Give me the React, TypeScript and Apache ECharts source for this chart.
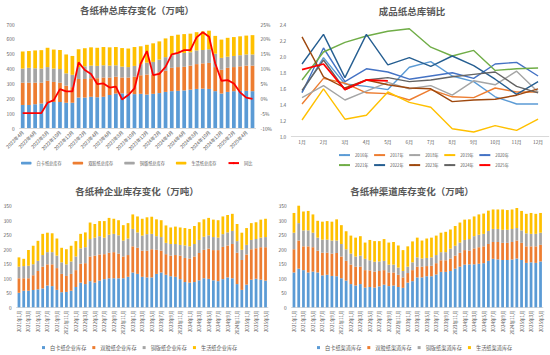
import React, { useEffect, useRef } from "react";
import * as echarts from "echarts";

const monthLabels = (y0: number, m0: number, n: number) => {
  const out: string[] = [];
  let y = y0, m = m0;
  for (let i = 0; i < n; i++) {
    out.push(`${y}年${m}月`);
    m++;
    if (m > 12) { m = 1; y++; }
  }
  return out;
};

// ---------- Chart 1: 各纸种总库存变化 ----------
const totalCats = monthLabels(2022, 4, 38);
const totalWhite = [155,155,160,165,175,175,175,170,170,205,205,210,207,210,222,232,233,230,228,230,225,230,235,243,248,250,253,258,263,265,263,248,232,243,248,250,250,248];
const totalDouble = [150,150,145,140,143,135,130,115,105,125,125,125,128,130,118,113,107,110,117,125,135,130,140,142,157,160,159,162,167,170,175,162,160,162,162,165,170,172];
const totalCopper = [95,100,97,95,92,90,92,83,83,80,85,85,83,82,80,77,73,70,73,75,80,85,85,92,85,90,93,90,92,90,92,90,80,75,75,75,75,75];
const totalTissue = [115,113,120,124,130,128,128,127,127,120,122,123,122,123,123,123,125,125,127,120,120,125,123,126,130,128,127,125,123,125,125,120,123,127,127,127,127,130];
const totalYoY = [-5,-5,-5,-5,-1.5,-0.6,3.1,2.3,2.3,12.1,9.5,8.2,4.8,5,3.6,3.9,-0.4,1.1,3.3,11.7,15.9,7.8,8.2,10.6,14.8,15.3,16.2,16.2,20.5,22.2,20.7,11.7,5.9,6.1,5,2,0.2,-0.2];

// ---------- Chart 2: 成品纸总库销比 ----------
const ratioMonths = ["1月","2月","3月","4月","5月","6月","7月","8月","9月","10月","11月","12月"];
const r2016 = [1.55,1.98,1.65,1.62,1.58,1.86,1.93,1.75,1.68,1.49,1.40,1.40];
const r2017 = [1.40,1.72,1.66,1.54,1.53,1.45,1.58,1.49,1.48,1.60,1.55,1.55];
const r2018 = [1.48,1.63,1.45,1.56,1.67,1.59,1.63,1.51,1.69,1.64,1.81,1.55];
const r2019 = [1.20,1.59,1.21,1.26,1.55,1.42,1.36,1.09,1.05,1.13,1.07,1.21];
const r2020 = [1.54,2.10,1.68,1.84,1.80,1.71,1.75,1.79,1.72,1.90,1.92,1.75];
const r2021 = [1.70,2.05,2.17,2.25,2.31,2.34,2.11,2.00,2.07,1.82,1.84,1.85];
const r2022 = [1.90,2.27,1.73,2.27,1.89,1.98,1.87,2.00,1.88,1.71,1.52,1.68];
const r2023 = [2.24,1.74,1.60,1.70,1.64,1.60,1.59,1.43,1.45,1.46,1.51,1.59];
const r2024 = [1.57,1.95,1.58,1.70,1.73,1.68,1.70,1.74,1.77,1.80,1.62,1.54];
const r2025 = [1.83,1.90,1.58,1.70,1.69];
const yearNames = ["2016年","2017年","2018年","2019年","2020年","2021年","2022年","2023年","2024年","2025年"];
const yearData = [r2016,r2017,r2018,r2019,r2020,r2021,r2022,r2023,r2024,r2025];
const yearColors = ["#5B9BD5","#ED7D31","#A5A5A5","#FFC000","#4472C4","#70AD47","#255E91","#9E480E","#636363","#FF0000"];

// ---------- Chart 3: 各纸种企业库存变化 ----------
const longCats = monthLabels(2021, 1, 53);
const entWhite = [50,57,57,60,62,65,75,73,60,52,53,57,70,85,80,90,85,92,97,100,100,100,100,105,120,115,105,103,103,115,120,112,107,105,97,87,85,87,93,100,98,93,90,97,103,100,80,60,78,95,98,95,92];
const entDouble = [50,43,43,50,63,75,73,75,75,63,55,58,58,65,72,85,93,90,86,88,90,85,75,75,90,90,90,92,97,83,75,71,71,75,81,83,83,88,94,98,104,104,107,111,110,118,108,103,104,105,105,112,115];
const entCopper = [40,42,43,38,35,40,42,42,43,40,40,43,47,53,55,60,62,63,57,62,63,63,55,57,60,53,52,57,53,47,47,39,40,38,37,43,42,43,45,45,46,45,43,44,45,45,40,35,33,32,32,33,35];
const entTissue = [32,25,54,64,69,73,67,65,59,50,52,54,53,50,51,57,47,52,57,58,52,52,53,53,50,55,58,58,59,58,58,60,57,60,60,60,60,62,61,60,60,60,60,61,60,59,59,59,58,58,58,62,63];

// ---------- Chart 4: 各纸种渠道库存变化 ----------
const chWhite = [120,133,128,120,123,120,110,112,108,107,100,92,80,75,80,68,70,68,72,78,73,75,70,67,85,90,103,103,107,107,113,122,122,125,133,140,147,148,148,150,152,160,167,165,163,163,165,168,163,153,155,153,158];
const chDouble = [80,97,82,90,84,75,78,76,77,80,75,68,67,65,60,60,57,55,53,50,47,45,42,36,33,38,37,37,35,36,39,40,40,43,45,48,50,47,55,57,58,58,58,60,59,59,60,62,59,57,55,57,57];
const chCopper = [57,60,55,55,50,45,45,45,45,43,43,40,38,35,38,39,35,34,33,32,27,27,25,22,22,27,32,28,28,29,28,28,28,34,34,35,35,40,42,43,43,45,45,45,45,45,45,43,43,45,43,43,42];
const chTissue = [68,60,65,67,63,58,62,64,65,73,65,62,62,65,67,56,70,71,70,75,76,78,76,72,70,72,68,62,67,68,67,67,70,66,68,69,70,68,68,70,70,70,67,67,70,68,67,69,67,67,72,69,68];

const C_WHITE = "#5B9BD5";
const C_DOUBLE = "#ED7D31";
const C_COPPER = "#A5A5A5";
const C_TISSUE = "#FFC000";
const TXT = "#595959";
const AXIS = "#D9D9D9";
const FONT = "Noto Sans CJK SC";

export default function App() {
  const ref = useRef<HTMLDivElement>(null);
  useEffect(() => {
    if (!ref.current) return;
    const chart = echarts.init(ref.current, undefined, { renderer: "svg" });

    const titleStyle = { fontSize: 9.5, fontWeight: "bold", color: TXT, fontFamily: FONT };
    const tickLabel = (fs: number) => ({ fontSize: fs, color: TXT, fontFamily: FONT });
    const legendText = (fs: number) => ({ fontSize: fs, color: TXT, fontFamily: FONT });

    const barSeries = (name: string, data: number[], color: string, xi: number, yi: number, stack: string, gap: string) => ({
      name, type: "bar", data, stack, xAxisIndex: xi, yAxisIndex: yi,
      itemStyle: { color }, barCategoryGap: gap,
    });

    const series: any[] = [
      barSeries("白卡纸总库存", totalWhite, C_WHITE, 0, 0, "t", "40%"),
      barSeries("双胶纸总库存", totalDouble, C_DOUBLE, 0, 0, "t", "40%"),
      barSeries("铜版纸总库存", totalCopper, C_COPPER, 0, 0, "t", "40%"),
      barSeries("生活纸总库存", totalTissue, C_TISSUE, 0, 0, "t", "40%"),
      {
        name: "同比", type: "line", data: totalYoY, xAxisIndex: 0, yAxisIndex: 1,
        symbol: "none", lineStyle: { color: "#FF0000", width: 1.8 }, itemStyle: { color: "#FF0000" },
      },
      ...yearNames.map((n, i) => ({
        name: n, type: "line", data: yearData[i], xAxisIndex: 1, yAxisIndex: 2,
        symbol: "none", lineStyle: { color: yearColors[i], width: i === 9 ? 1.8 : 1.4 },
        itemStyle: { color: yearColors[i] }, z: i === 9 ? 5 : 3,
      })),
      barSeries("白卡纸企业库存", entWhite, C_WHITE, 2, 3, "e", "42%"),
      barSeries("双胶纸企业库存", entDouble, C_DOUBLE, 2, 3, "e", "42%"),
      barSeries("铜版纸企业库存", entCopper, C_COPPER, 2, 3, "e", "42%"),
      barSeries("生活纸企业库存", entTissue, C_TISSUE, 2, 3, "e", "42%"),
      barSeries("白卡纸渠道库存", chWhite, C_WHITE, 3, 4, "c", "42%"),
      barSeries("双胶纸渠道库存", chDouble, C_DOUBLE, 3, 4, "c", "42%"),
      barSeries("铜版纸渠道库存", chCopper, C_COPPER, 3, 4, "c", "42%"),
      barSeries("生活纸渠道库存", chTissue, C_TISSUE, 3, 4, "c", "42%"),
    ];

    const catAxis = (gridIndex: number, data: string[], fs: number, rotate: number, interval: any) => ({
      type: "category", gridIndex, data, boundaryGap: true,
      axisLine: { show: true, lineStyle: { color: AXIS, width: 1 } },
      axisTick: { show: false },
      axisLabel: { ...tickLabel(fs), rotate, interval, margin: 3 },
    });

    const valAxis = (gridIndex: number, min: number, max: number, interval: number, fs: number, formatter?: any, position?: string) => ({
      type: "value", gridIndex, min, max, interval, position: position || "left",
      axisLine: { show: false }, axisTick: { show: false },
      splitLine: { show: false },
      axisLabel: { ...tickLabel(fs), margin: 5, formatter },
    });

    const option: any = {
      animation: false,
      textStyle: { fontFamily: FONT },
      title: [
        { text: "各纸种总库存变化（万吨）", left: 137, top: 5, textAlign: "center", padding: 0, textStyle: titleStyle },
        { text: "成品纸总库销比", left: 412, top: 6, textAlign: "center", padding: 0, textStyle: titleStyle },
        { text: "各纸种企业库存变化（万吨）", left: 137, top: 186, textAlign: "center", padding: 0, textStyle: titleStyle },
        { text: "各纸种渠道库存变化（万吨）", left: 412, top: 186, textAlign: "center", padding: 0, textStyle: titleStyle },
      ],
      legend: [
        {
          data: ["白卡纸总库存", "双胶纸总库存", "铜版纸总库存", "生活纸总库存", "同比"],
          left: 21, top: 161, padding: 0, itemWidth: 10.5, itemHeight: 2.7, itemGap: 11,
          textStyle: legendText(4.2),
        },
        {
          data: yearNames.slice(0, 5), left: 338, top: 153, padding: 0,
          itemWidth: 11, itemHeight: 2, itemGap: 4.6, textStyle: legendText(4.2),
        },
        {
          data: yearNames.slice(5), left: 338, top: 163, padding: 0,
          itemWidth: 11, itemHeight: 2, itemGap: 4.6, textStyle: legendText(4.2),
        },
        {
          data: ["白卡纸企业库存", "双胶纸企业库存", "铜版纸企业库存", "生活纸企业库存"],
          left: 42, top: 345, padding: 0, itemWidth: 3, itemHeight: 3, itemGap: 6,
          icon: "rect", textStyle: legendText(5.2),
        },
        {
          data: ["白卡纸渠道库存", "双胶纸渠道库存", "铜版纸渠道库存", "生活纸渠道库存"],
          left: 317, top: 345, padding: 0, itemWidth: 3, itemHeight: 3, itemGap: 6,
          icon: "rect", textStyle: legendText(5.2),
        },
      ],
      grid: [
        { left: 19.6, top: 24, width: 236, height: 104 },
        { left: 291.3, top: 24, width: 257.5, height: 112 },
        { left: 16.6, top: 205.7, width: 251.3, height: 101.6 },
        { left: 291.6, top: 205.7, width: 251.3, height: 101.6 },
      ],
      xAxis: [
        catAxis(0, totalCats, 4.8, 45, 1),
        catAxis(1, ratioMonths, 4.8, 0, 0),
        catAxis(2, longCats, 4.6, 90, 1),
        catAxis(3, longCats, 4.6, 90, 1),
      ],
      yAxis: [
        valAxis(0, 0, 700, 100, 4.8),
        valAxis(0, -10, 25, 5, 4.8, "{value}%", "right"),
        valAxis(1, 1.0, 2.4, 0.2, 4.8, (v: number) => v.toFixed(1)),
        valAxis(2, 0, 350, 50, 4.8),
        valAxis(3, 0, 350, 50, 4.8),
      ],
      series,
    };
    chart.setOption(option);
    return () => chart.dispose();
  }, []);

  return (
    <div
      ref={ref}
      style={{ position: "absolute", left: 0, top: 0, width: 550, height: 355, background: "#ffffff" }}
    />
  );
}
